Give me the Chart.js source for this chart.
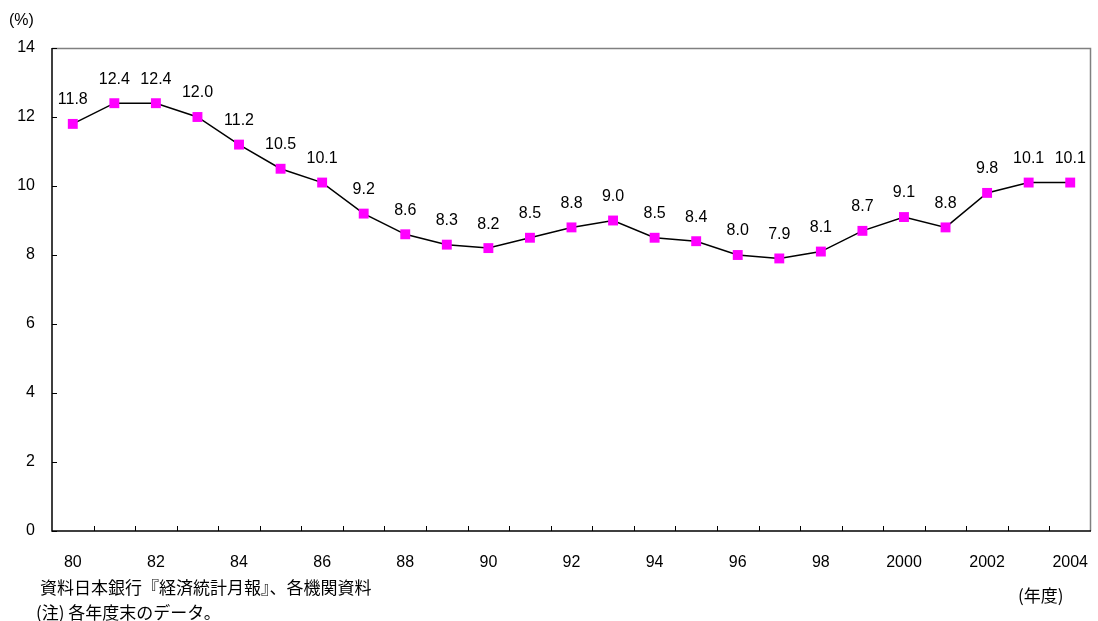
<!DOCTYPE html>
<html><head><meta charset="utf-8">
<script src="https://cdn.jsdelivr.net/npm/chart.js@4/dist/chart.umd.min.js"></script>
<style>html,body{margin:0;padding:0;background:#fff;}#wrap{width:1098px;height:621px;position:relative;}</style>
</head><body><div id="wrap"><canvas id="c" width="1098" height="621"></canvas></div>
<script>
const categories = ['80','81','82','83','84','85','86','87','88','89','90','91','92','93','94','95','96','97','98','99','2000','2001','2002','2003','2004'];
const values = [11.8,12.4,12.4,12.0,11.2,10.5,10.1,9.2,8.6,8.3,8.2,8.5,8.8,9.0,8.5,8.4,8.0,7.9,8.1,8.7,9.1,8.8,9.8,10.1,10.1];
const yTicks = [0,2,4,6,8,10,12,14];
const yUnit = '(%)';
const xUnit = '(年度)';
const notes = ['資料日本銀行『経済統計月報』、各機関資料','(注) 各年度末のデータ。'];

const NUM_FAMILY = '"Liberation Sans", Arial, sans-serif';
const NUM_FONT = '16px ' + NUM_FAMILY;
const JP_FONT = '17px "Noto Sans CJK JP", sans-serif';

const extras = {
  id: 'extras',
  afterDraw(chart) {
    const ctx = chart.ctx, a = chart.chartArea;
    const xs = chart.scales.x, ys = chart.scales.y;
    ctx.save();
    // frame
    ctx.strokeStyle = '#808080'; ctx.lineWidth = 1.5;
    ctx.beginPath();
    ctx.moveTo(a.left, a.top + 0.5); ctx.lineTo(a.right - 0.5, a.top + 0.5); ctx.lineTo(a.right - 0.5, a.bottom);
    ctx.stroke();
    ctx.strokeStyle = '#000'; ctx.lineWidth = 1.5;
    ctx.beginPath();
    ctx.moveTo(a.left, a.top); ctx.lineTo(a.left, a.bottom); ctx.lineTo(a.right, a.bottom);
    ctx.stroke();
    // y ticks inward
    ctx.lineWidth = 1;
    yTicks.forEach(v => {
      const y = Math.round(ys.getPixelForValue(v)) + 0.5;
      ctx.beginPath(); ctx.moveTo(a.left, y); ctx.lineTo(a.left + 5, y); ctx.stroke();
    });
    // x ticks inward at category boundaries
    for (let i = 1; i < categories.length; i++) {
      const x = Math.round((xs.getPixelForValue(i - 1) + xs.getPixelForValue(i)) / 2) + 0.5;
      ctx.beginPath(); ctx.moveTo(x, a.bottom); ctx.lineTo(x, a.bottom - 5); ctx.stroke();
    }
    // data labels
    ctx.fillStyle = '#000'; ctx.font = NUM_FONT;
    ctx.textAlign = 'center'; ctx.textBaseline = 'middle';
    const meta = chart.getDatasetMeta(0);
    meta.data.forEach((pt, i) => {
      ctx.fillText(values[i].toFixed(1), pt.x, pt.y - 24);
    });
    // units
    ctx.font = NUM_FONT; ctx.textAlign = 'left';
    ctx.fillText(yUnit, 9, 21);
    ctx.font = JP_FONT;
    ctx.fillText(xUnit, 1018, 596);
    ctx.fillText(notes[0], 40, 588);
    ctx.fillText(notes[1], 36, 613);
    ctx.restore();
  }
};

new Chart(document.getElementById('c'), {
  type: 'line',
  data: {
    labels: categories,
    datasets: [{
      data: values,
      borderColor: '#000',
      borderWidth: 1.5,
      pointStyle: 'rect',
      pointRadius: 7,
      pointHoverRadius: 7,
      pointBackgroundColor: '#FF00FF',
      pointBorderColor: '#FF00FF',
      pointBorderWidth: 0,
      tension: 0
    }]
  },
  options: {
    responsive: false,
    animation: false,
    events: [],
    layout: { padding: { left: 0, right: 3, top: 48, bottom: 0 } },
    plugins: { legend: { display: false }, tooltip: { enabled: false } },
    scales: {
      x: {
        type: 'category',
        offset: true,
        grid: { display: false, drawTicks: false },
        border: { display: false },
        ticks: {
          autoSkip: false, maxRotation: 0, padding: 22,
          color: '#000', font: { family: NUM_FAMILY, size: 16 },
          callback: (v, i) => (i % 2 === 0 ? categories[i] : '')
        },
        afterFit: s => { s.height = 90; s.paddingLeft = 0; s.paddingRight = 0; }
      },
      y: {
        min: 0, max: 14,
        grid: { display: false, drawTicks: false },
        border: { display: false },
        ticks: {
          stepSize: 2, padding: 17, color: '#000',
          font: { family: NUM_FAMILY, size: 16 }
        },
        afterFit: s => { s.width = 52; s.paddingTop = 0; s.paddingBottom = 0; }
      }
    }
  },
  plugins: [extras]
});
</script>
</body></html>
